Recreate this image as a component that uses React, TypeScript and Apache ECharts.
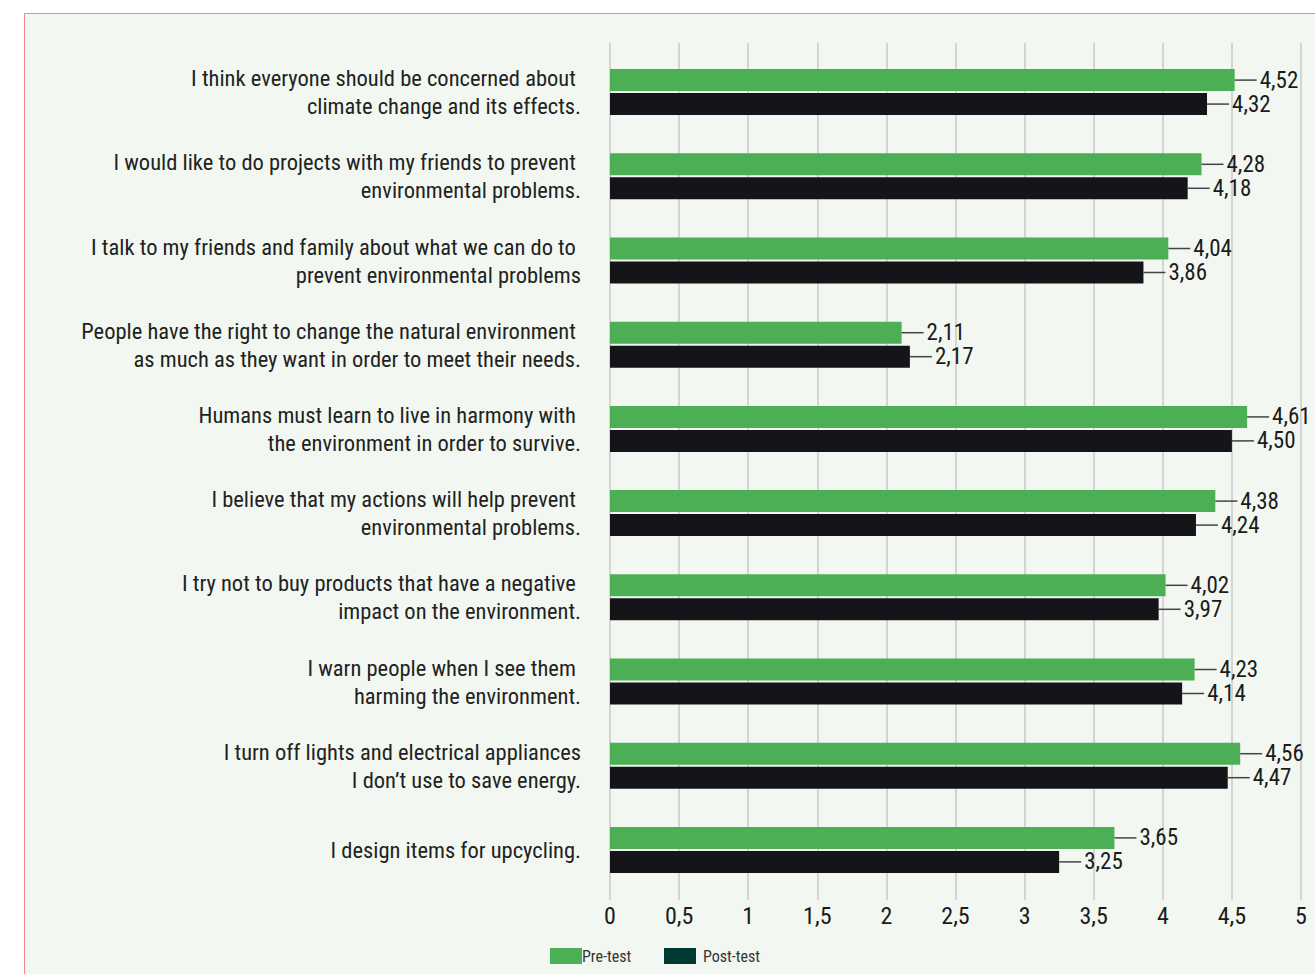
import React, { useEffect, useRef } from "react";
import * as echarts from "echarts";

const NB = "\u00a0";
const categories: string[] = [
  "I think everyone should be concerned about" + NB + "\nclimate change and its effects.",
  "I would like to do projects with my friends to prevent" + NB + "\nenvironmental problems.",
  "I talk to my friends and family about what we can do to" + NB + "\nprevent environmental problems",
  "People have the right to change the natural environment" + NB + "\nas much as they want in order to meet their needs.",
  "Humans must learn to live in harmony with" + NB + "\nthe environment in order to survive.",
  "I believe that my actions will help prevent" + NB + "\nenvironmental problems.",
  "I try not to buy products that have a negative" + NB + "\nimpact on the environment.",
  "I warn people when I see them" + NB + "\nharming the environment.",
  "I turn off lights and electrical appliances\nI don’t use to save energy.",
  "I design items for upcycling.",
];
const preTest: number[] = [4.52, 4.28, 4.04, 2.11, 4.61, 4.38, 4.02, 4.23, 4.56, 3.65];
const postTest: number[] = [4.32, 4.18, 3.86, 2.17, 4.5, 4.24, 3.97, 4.14, 4.47, 3.25];
const seriesNames = ["Pre-test", "Post-test"];

const FONT = "'Liberation Sans Narrow', 'Roboto Condensed', 'Arial Narrow', Roboto, sans-serif";
const fmt = (v: number) => v.toFixed(2).replace(".", ",");

export default function App() {
  const ref = useRef<HTMLDivElement>(null);
  useEffect(() => {
    if (!ref.current) return;
    const chart = echarts.init(ref.current, undefined, { renderer: "svg" });
    const label = {
      show: true,
      position: "right",
      distance: 0,
      formatter: (p: any) => "{l| }{t|" + fmt(p.value) + "}",
      rich: {
        l: { width: 22, height: 1.5, backgroundColor: "#444", verticalAlign: "middle" },
        t: { fontSize: 23, color: "#1b1b1b", fontFamily: FONT, padding: [0, 0, 0, 3] },
      },
    };
    const gridColor = "#c9c9c9";
    chart.setOption({
      animation: false,
      grid: { left: 610, right: 14, top: 50, bottom: 82, containLabel: false },
      xAxis: [
        {
          type: "value",
          min: 0,
          max: 5,
          interval: 0.5,
          position: "bottom",
          axisLine: { show: false },
          axisTick: { show: true, length: 8, lineStyle: { color: gridColor, width: 1.5 } },
          splitLine: { show: true, lineStyle: { color: gridColor, width: 1.5 } },
          axisLabel: {
            margin: 12,
            fontSize: 24,
            color: "#1b1b1b",
            fontFamily: FONT,
            formatter: (v: number) => String(v).replace(".", ","),
          },
        },
        {
          type: "value",
          min: 0,
          max: 5,
          interval: 0.5,
          position: "top",
          axisLine: { show: false },
          axisTick: { show: true, length: 7, lineStyle: { color: gridColor, width: 1.5 } },
          splitLine: { show: false },
          axisLabel: { show: false },
        },
      ],
      yAxis: {
        type: "category",
        inverse: true,
        data: categories,
        axisLine: { show: false },
        axisTick: { show: false },
        axisLabel: {
          margin: 29,
          fontSize: 22.5,
          lineHeight: 28,
          color: "#222",
          fontFamily: FONT,
          align: "right",
        },
      },
      legend: [
        {
          data: [seriesNames[0]],
          left: 545,
          top: 943,
          itemWidth: 32,
          itemHeight: 16,
          icon: "rect",
          textStyle: { fontSize: 16, color: "#333", fontFamily: FONT, padding: [0, 0, 0, -5] },
        },
        {
          data: [{ name: seriesNames[1], itemStyle: { color: "#003a35" } }],
          left: 659,
          top: 943,
          itemWidth: 32,
          itemHeight: 16,
          icon: "rect",
          textStyle: { fontSize: 16, color: "#333", fontFamily: FONT, padding: [0, 0, 0, 2] },
        },
      ],
      series: [
        {
          name: seriesNames[0],
          type: "bar",
          data: preTest,
          barWidth: 22,
          barGap: "9%",
          itemStyle: { color: "#4caf55" },
          label,
        },
        {
          name: seriesNames[1],
          type: "bar",
          data: postTest,
          barWidth: 22,
          barGap: "9%",
          itemStyle: { color: "#151419" },
          label,
        },
      ],
    });
    return () => chart.dispose();
  }, []);
  return (
    <div style={{ position: "fixed", left: 0, top: 0, width: 1315, height: 974, background: "#fff" }}>
      <div
        style={{
          position: "absolute",
          left: 24,
          top: 13,
          width: 1300,
          height: 970,
          borderLeft: "1.5px solid #f08a8a",
          borderTop: "1.5px solid #f08a8a",
          background: "#f2f8f1",
        }}
      />
      <div ref={ref} style={{ position: "absolute", left: 0, top: 0, width: 1315, height: 974 }} />
    </div>
  );
}
